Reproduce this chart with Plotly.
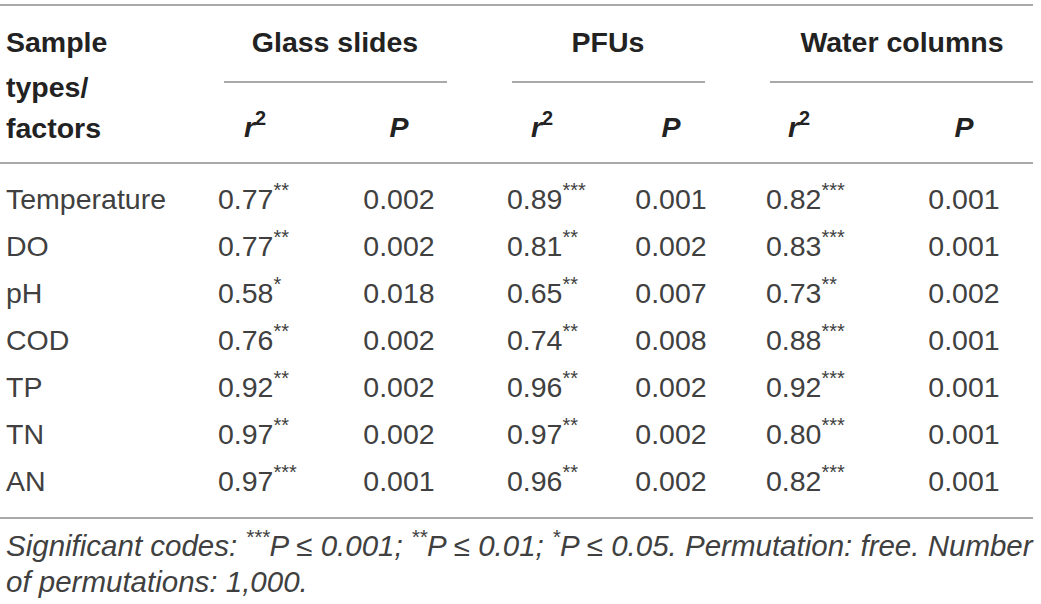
import plotly.graph_objects as go

# table values
factors = ['Temperature', 'DO', 'pH', 'COD', 'TP', 'TN', 'AN']
glass_r2 = ['0.77', '0.77', '0.58', '0.76', '0.92', '0.97', '0.97']
glass_sig = ['**', '**', '*', '**', '**', '**', '***']
glass_p = ['0.002', '0.002', '0.018', '0.002', '0.002', '0.002', '0.001']
pfu_r2 = ['0.89', '0.81', '0.65', '0.74', '0.96', '0.97', '0.96']
pfu_sig = ['***', '**', '**', '**', '**', '**', '**']
pfu_p = ['0.001', '0.002', '0.007', '0.008', '0.002', '0.002', '0.002']
water_r2 = ['0.82', '0.83', '0.73', '0.88', '0.92', '0.80', '0.82']
water_sig = ['***', '***', '**', '***', '***', '***', '***']
water_p = ['0.001', '0.001', '0.002', '0.001', '0.001', '0.001', '0.001']

groups = ['Glass slides', 'PFUs', 'Water columns']
footnote = ('<i>Significant codes: <sup>***</sup>P ≤ 0.001; <sup>**</sup>P ≤ 0.01; '
            '<sup>*</sup>P ≤ 0.05. Permutation: free. Number</i>')
footnote2 = '<i>of permutations: 1,000.</i>'

# layout (axis units = pixels)
W, H = 1041, 604
row0, row_step = 202, 47
rows = [row0 + i * row_step for i in range(len(factors))]
r2_left = [218, 507, 766]
r2_head = [255, 542, 799]
p_center = [399, 671, 964]
group_center = [335, 608, 902]
group_line = [(224, 447), (512, 705), (770, 1033)]

FONT = 'Liberation Sans, Arial, sans-serif'
TXT = '#404040'
BOLD = '#222222'
SIZE = 28.5
LINE = '#8c8c8c'

fig = go.Figure()


def text_trace(xs, ys, texts, pos, size=SIZE, color=TXT, family=FONT):
    fig.add_trace(go.Scatter(
        x=xs, y=ys, text=texts, mode='text', textposition=pos,
        textfont=dict(size=size, color=color, family=family),
        hoverinfo='skip', showlegend=False, cliponaxis=False
    ))


# first column
text_trace([6] * len(factors), rows, factors, 'middle right')

all_r2 = [glass_r2, pfu_r2, water_r2]
all_sig = [glass_sig, pfu_sig, water_sig]
all_p = [glass_p, pfu_p, water_p]
for g in range(3):
    cells = [f'{v}<sup>{s}</sup>' for v, s in zip(all_r2[g], all_sig[g])]
    text_trace([r2_left[g]] * len(rows), rows, cells, 'middle right')
    text_trace([p_center[g]] * len(rows), rows, all_p[g], 'middle center')

# header
text_trace([6, 6, 6], [45, 90, 131], ['<b>Sample</b>', '<b>types/</b>', '<b>factors</b>'],
           'middle right', color=BOLD)
text_trace(group_center, [45] * 3, [f'<b>{g}</b>' for g in groups], 'middle center', color=BOLD)
text_trace(r2_head, [130] * 3, ['<b><i>r</i><sup>2</sup></b>'] * 3, 'middle center', color=BOLD)
text_trace(p_center, [130] * 3, ['<b><i>P</i></b>'] * 3, 'middle center', color=BOLD)

# footnote
text_trace([6, 6], [549, 585], [footnote, footnote2], 'middle right', size=29.5)

# rules
for y in [5, 163, 518]:
    fig.add_shape(type='line', x0=0, x1=1033, y0=y, y1=y, xref='x', yref='y',
                  line=dict(color=LINE, width=1.5))
for x0, x1 in group_line:
    fig.add_shape(type='line', x0=x0, x1=x1, y0=82, y1=82, xref='x', yref='y',
                  line=dict(color=LINE, width=1.5))

fig.update_layout(
    width=W, height=H,
    margin=dict(l=0, r=0, t=0, b=0),
    paper_bgcolor='white', plot_bgcolor='white',
    xaxis=dict(range=[0, W], visible=False, fixedrange=True),
    yaxis=dict(range=[H, 0], visible=False, fixedrange=True),
)

# drop the default 8px page margin so the figure sits at the window's corner
fig.write_html("out.html", config={'displayModeBar': False},
               post_script="document.body.style.margin='0';")
